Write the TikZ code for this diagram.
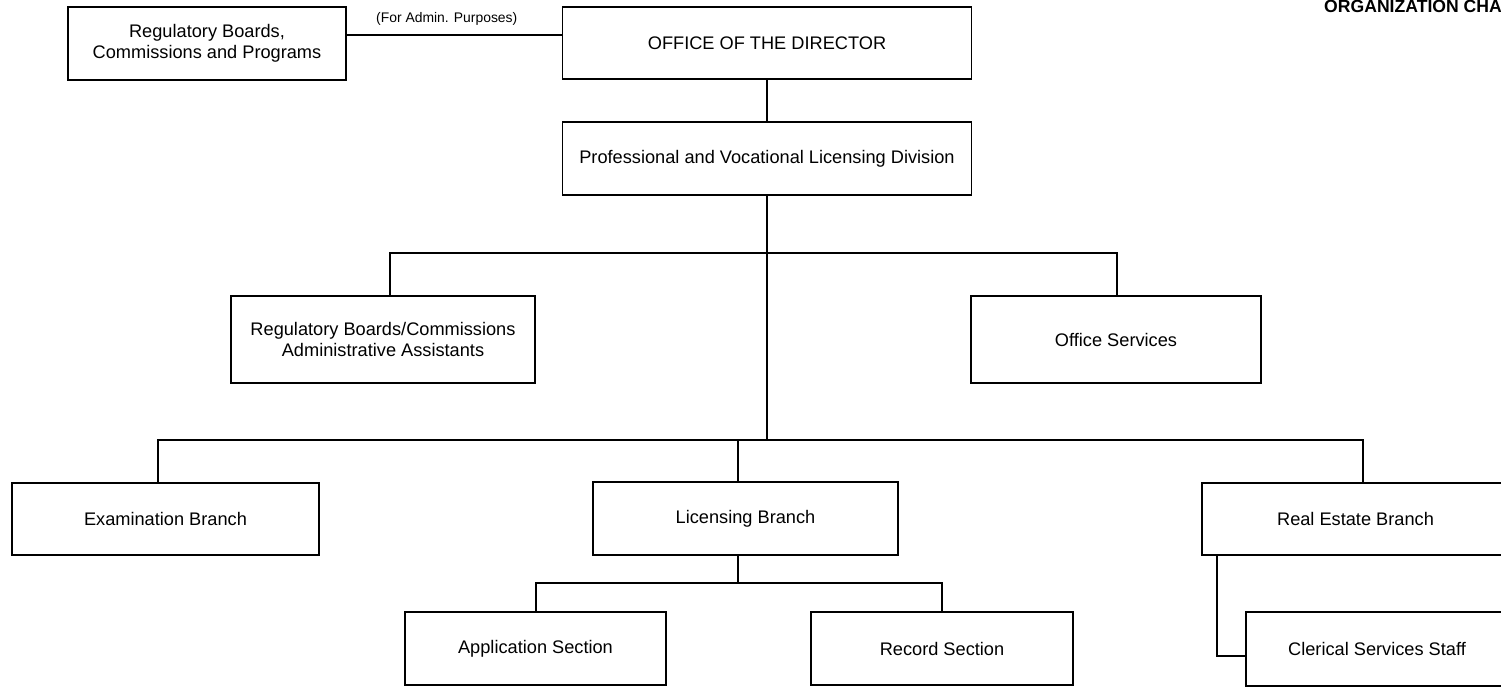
\documentclass[tikz,border=0pt]{standalone}
\usepackage{fontspec}
\setmainfont{Liberation Sans}
\begin{document}
\begin{tikzpicture}[x=1pt,y=-1pt,
  box/.style={draw, line width=1.6pt, inner sep=0pt, align=center,
    font=\fontsize{18.2}{20.5}\selectfont},
  link/.style={line width=1.6pt}]
\clip (0,0) rectangle (1501,686);
\fill[white] (0,0) rectangle (1501,686);

% top level
\node[box, minimum width=278pt, minimum height=73pt] (rb) at (207,43.5)
  {Regulatory Boards,\\Commissions and Programs};
\node[box, minimum width=409pt, minimum height=72pt] (od) at (767,43)
  {OFFICE OF THE DIRECTOR};
\node[box, minimum width=409pt, minimum height=73pt] (pv) at (767,158.5)
  {Professional and Vocational Licensing Division};

% staff units
\node[box, minimum width=304pt, minimum height=87pt] (ra) at (383,339.5)
  {Regulatory Boards/Commissions\\Administrative Assistants};
\node[box, minimum width=290pt, minimum height=87pt] (os) at (1116,339.5)
  {Office Services};

% branches
\node[box, minimum width=307pt, minimum height=72pt] (ex) at (165.5,519)
  {Examination Branch};
\node[box, minimum width=305pt, minimum height=73pt] (lb) at (745.5,518.5)
  {Licensing Branch};
\node[box, minimum width=307pt, minimum height=72pt] (re) at (1355.5,519)
  {Real Estate Branch};

% sections
\node[box, minimum width=261pt, minimum height=73pt] (ap) at (535.5,648.5)
  {Application Section};
\node[box, minimum width=262pt, minimum height=73pt] (rs) at (942,648.5)
  {Record Section};
\node[box, minimum width=262pt, minimum height=74pt] (cs) at (1377,649)
  {Clerical Services Staff};

% heading
\node[anchor=base west, inner sep=0pt,
  font=\fontsize{17.6}{20}\selectfont\bfseries] (title) at (1324,12)
  {ORGANIZATION CHART};

% administrative link
\coordinate (adm) at (0,35);
\draw[link] (rb.east |- adm) -- (od.west |- adm);
\node[anchor=base west, inner sep=0pt,
  font=\fontsize{13.9}{16}\selectfont] (admlabel) at (376,22)
  {(For Admin. Purposes)};

% main trunk
\coordinate (b2) at (767,440);
\draw[link] (od.south) -- (pv.north);
\draw[link] (pv.south) -- (b2);

% staff bus
\coordinate (b1L) at (390,253);
\coordinate (b1R) at (1117,253);
\draw[link] (b1L |- ra.north) -- (b1L) -- (b1R) -- (b1R |- os.north);

% branch bus
\coordinate (b2L) at (158,440);
\coordinate (b2M) at (738,440);
\coordinate (b2R) at (1363,440);
\draw[link] (b2L |- ex.north) -- (b2L) -- (b2R) -- (b2R |- re.north);
\draw[link] (b2M) -- (b2M |- lb.north);

% licensing sections
\coordinate (b3L) at (536,583);
\coordinate (b3R) at (942,583);
\draw[link] (b2M |- lb.south) -- (b2M |- b3L);
\draw[link] (b3L |- ap.north) -- (b3L) -- (b3R) -- (b3R |- rs.north);

% real estate staff
\coordinate (rc) at (1217,656);
\draw[link] (rc |- re.south) -- (rc) -- (rc -| cs.west);
\end{tikzpicture}
\end{document}
